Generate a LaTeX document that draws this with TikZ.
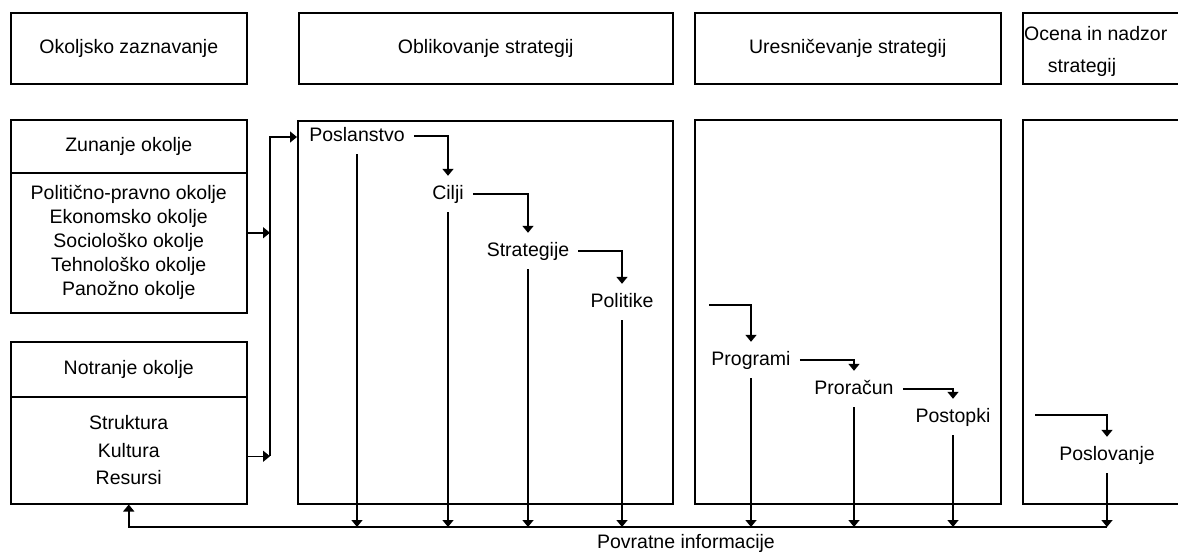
\documentclass[tikz,border=0pt]{standalone}
\usepackage{fontspec}
\setmainfont{Liberation Sans}
\usetikzlibrary{calc}
\usetikzlibrary{arrows.meta}

\tikzset{
  box/.style={draw=black, line width=1.5pt, anchor=north west, inner sep=0pt, align=center},
  lbl/.style={inner sep=9pt, text height=14pt, text depth=4pt},
  ln/.style={black, line width=1.5pt},
  arr/.style={ln, -{Triangle[width=11pt,length=7pt]}},
}

\begin{document}
\begin{tikzpicture}[x=1pt,y=-1pt, font=\fontsize{19.5}{24}\selectfont]
\clip (0,0) rectangle (1178,554);

\node[box, minimum width=236, minimum height=71] (okz) at (10,12) {Okoljsko zaznavanje};
\node[box, minimum width=374, minimum height=71] (obl) at (298,12) {Oblikovanje strategij};
\node[box, minimum width=306, minimum height=71] (ures) at (694,12) {Uresničevanje strategij};
\node[box, minimum width=220, minimum height=71] (ocena) at (1022,12) {};
\node[anchor=west, inner sep=0pt] (ocA) at (1024,34) {Ocena in nadzor};
\node[inner sep=0pt] (ocB) at (1082,67) {strategij};

\node[box, minimum width=236, minimum height=53] (zun) at (10,119) {Zunanje okolje};
\node[box, minimum width=236, minimum height=140] (zunB) at (10,172)
  {Politično-pravno okolje\\Ekonomsko okolje\\Sociološko okolje\\Tehnološko okolje\\Panožno okolje};
\node[box, minimum width=236, minimum height=55] (not) at (10,341) {Notranje okolje};
\node[box, minimum width=236, minimum height=107, font=\fontsize{19.5}{27.5}\selectfont] (notB) at (10,396)
  {Struktura\\Kultura\\Resursi};

\node[box, minimum width=375, minimum height=383] (oblB) at (297,120) {};
\node[box, minimum width=306, minimum height=384] (uresB) at (694,119) {};
\node[box, minimum width=220, minimum height=384] (ocenaB) at (1022,119) {};

\node[lbl] (posl) at (357,136) {Poslanstvo};
\node[lbl] (cilji) at (448,194) {Cilji};
\node[lbl] (strat) at (528,251) {Strategije};
\node[lbl] (polit) at (622,302) {Politike};
\node[lbl] (prog) at (751,360) {Programi};
\node[lbl] (pror) at (854,389) {Proračun};
\node[lbl] (postop) at (953,417) {Postopki};
\node[lbl] (poslov) at (1107,455) {Poslovanje};
\node (povr) at (686,543) {Povratne informacije};

\coordinate (bus) at (270,137);
\coordinate (fb) at (0,527);
\coordinate (zout) at ([yshift=10pt]zunB.east);
\coordinate (nout) at ([yshift=-6pt]notB.east);
\coordinate (uin) at (709,305);
\coordinate (oin) at (1035,415);

\draw[arr] (zout) -- (zout -| bus);
\draw[arr] (nout) -- (nout -| bus);
\draw[arr] (nout -| bus) -- (bus) -- (bus -| oblB.west);

\draw[arr] (posl.east) -| (cilji.north);
\draw[arr] (cilji.east) -| (strat.north);
\draw[arr] (strat.east) -| (polit.north);
\draw[arr] (uin) -| (prog.north);
\draw[arr] (prog.east) -| (pror.north);
\draw[arr] (pror.east) -| (postop.north);
\draw[arr] (oin) -| (poslov.north);

\foreach \n in {posl,cilji,strat,polit,prog,pror,postop,poslov}
  \draw[arr] (\n.south) -- (\n.south |- fb);
\draw[arr] (poslov.south |- fb) -| (notB.south);

\end{tikzpicture}
\end{document}
